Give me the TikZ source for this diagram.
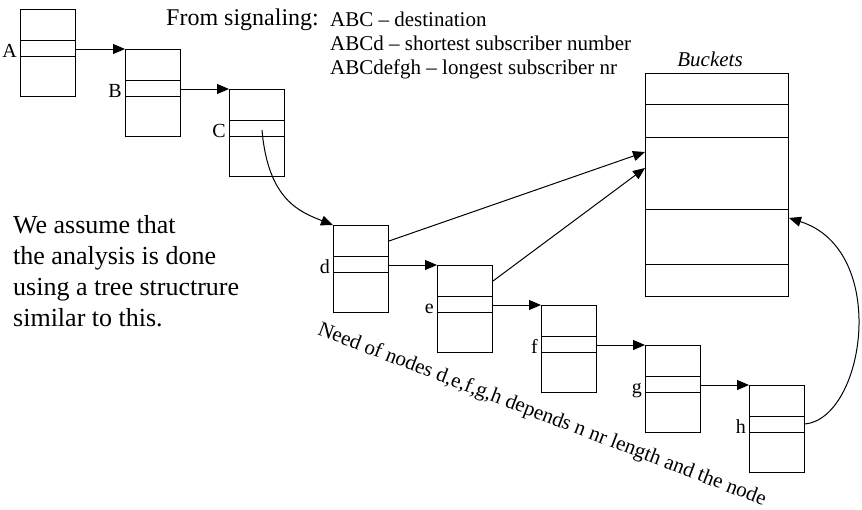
\documentclass[tikz,border=0pt]{standalone}
\usepackage{fontspec}
\setmainfont{Liberation Serif}
\usetikzlibrary{arrows.meta,positioning,calc}

\tikzset{
  cell/.style={draw, line width=1pt, anchor=north west, inner sep=0pt,
    minimum width=55pt, minimum height=87pt,
    path picture={
      \draw[line width=1pt] ([yshift=-31pt]path picture bounding box.north west) -- ([yshift=-31pt]path picture bounding box.north east);
      \draw[line width=1pt] ([yshift=-47pt]path picture bounding box.north west) -- ([yshift=-47pt]path picture bounding box.north east);
    }},
  bucket/.style={draw, line width=1pt, anchor=north west, inner sep=0pt,
    minimum width=143pt, minimum height=223pt},
  tag/.style={anchor=base east, inner sep=0pt, font=\fontsize{20}{24}\selectfont},
  link/.style={line width=1pt, -{Triangle[length=12pt,width=10pt]}}
}

\begin{document}
\begin{tikzpicture}[x=1pt,y=-1pt]
\useasboundingbox (0,0) rectangle (862,509);
% the chain of nodes
\foreach \n/\x/\y in {A/20/9,B/125/49,C/229/89,d/333/225,e/437/265,f/541/305,g/645/345,h/749/385}{
  \node[cell] (\n) at (\x,\y) {};
  \node[tag] at ([xshift=-3pt,yshift=-48pt]\n.north west) {\n};
}
% the buckets
\node[bucket] (bk) at (645,73) {};
\foreach \dy in {31,64,136,191}
  \draw[line width=1pt] ([yshift=-\dy pt]bk.north west) -- ([yshift=-\dy pt]bk.north east);
\node[anchor=base, inner sep=0pt, font=\fontsize{21}{24}\selectfont\itshape] (bkname) at (710,66) {Buckets};
% arrows along the chain
\foreach \a/\b in {A/B,B/C,d/e,e/f,f/g,g/h}
  \draw[link] ([yshift=-40pt]\a.north east) -- (\b.north west);
\coordinate (cin) at ([xshift=33pt,yshift=-41pt]C.north west);
\draw[link] (cin) .. controls (268,200) and (300,212) .. (d.north west);
% arrows to the buckets
\draw[link] ([yshift=-16pt]d.north east) -- ([yshift=-79pt]bk.north west);
\draw[link] ([yshift=-16pt]e.north east) -- ([yshift=-95pt]bk.north west);
\draw[link] ([yshift=-39pt]h.north east) .. controls (865,418) and (890,250) .. ([yshift=-145pt]bk.north east);
% the texts
\node[anchor=base west, inner sep=0pt, font=\fontsize{24}{28}\selectfont] (from) at (166,25) {From signaling:};
\node[anchor=base west, inner sep=0pt, align=left, font=\fontsize{21}{24}\selectfont] (sig) at (330,74)
  {ABC -- destination\\ABCd -- shortest subscriber number\\ABCdefgh -- longest subscriber nr};
\node[anchor=base west, inner sep=0pt, align=left, font=\fontsize{26}{31}\selectfont] (note) at (13,326)
  {We assume that\\the analysis is done\\using a tree structrure\\similar to this.};
\node[anchor=base, inner sep=0pt, rotate=-21, font=\fontsize{21}{24}\selectfont] (need) at (540,420)
  {Need of nodes d,e,f,g,h depends n nr length and the node};
\end{tikzpicture}
\end{document}
